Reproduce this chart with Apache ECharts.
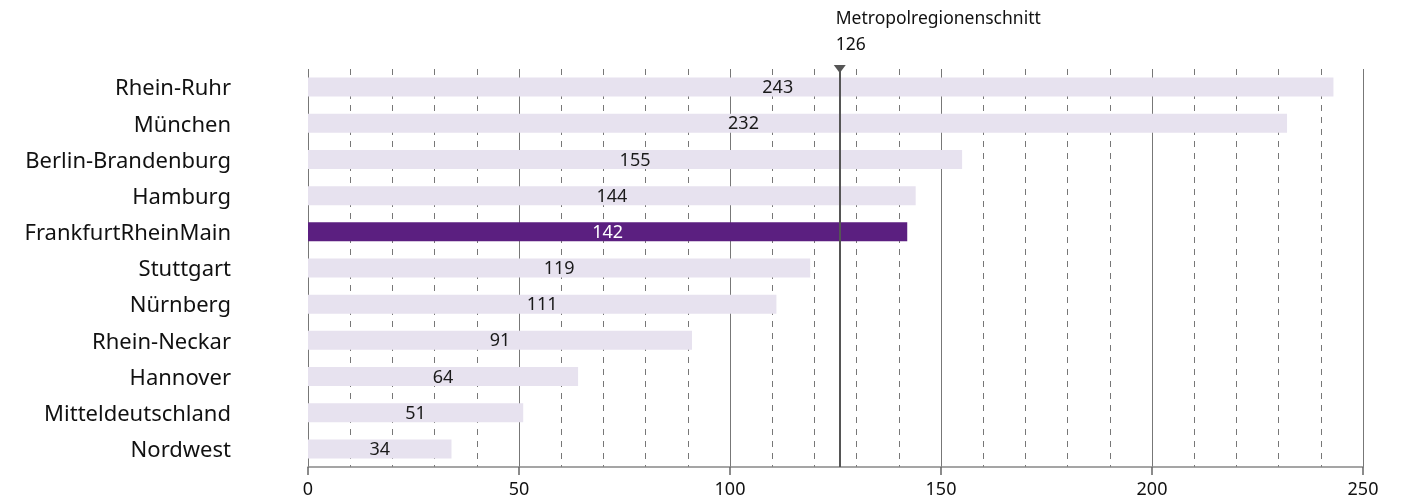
<!DOCTYPE html>
<html><head><meta charset="utf-8">
<script src="https://cdn.jsdelivr.net/npm/echarts@6/dist/echarts.min.js"></script>
<style>html,body{margin:0;padding:0;background:#fff}#c{width:1417px;height:499px}</style>
</head><body><div id="c"></div>
<script>
const categories = ['Rhein-Ruhr','München','Berlin-Brandenburg','Hamburg','FrankfurtRheinMain','Stuttgart','Nürnberg','Rhein-Neckar','Hannover','Mitteldeutschland','Nordwest'];
const values = [243,232,155,144,142,119,111,91,64,51,34];
const highlight = 'FrankfurtRheinMain';
const averageValue = 126;
const averageLabel = 'Metropolregionenschnitt';

const FONT = '"Noto Sans", sans-serif';
const labelShift = {'Rhein-Ruhr': -43, 'München': -54};
const data = values.map((v, i) => {
  const c = categories[i];
  const hi = c === highlight;
  return {
    value: v,
    itemStyle: {color: hi ? '#5b1f80' : '#e7e2ef'},
    label: {color: hi ? '#ffffff' : '#1a1a1a', offset: [labelShift[c] || 0, 1]}
  };
});

const chart = echarts.init(document.getElementById('c'));
chart.setOption({
  animation: false,
  grid: {left: 308, right: 54, top: 69, bottom: 31},
  xAxis: {
    type: 'value', min: 0, max: 250, interval: 50,
    axisLine: {show: true, lineStyle: {color: '#888', width: 1.5}},
    axisTick: {show: true, length: 8, lineStyle: {color: '#666', width: 1.5}},
    axisLabel: {color: '#111', fontSize: 18, fontFamily: FONT, margin: 14},
    splitLine: {show: true, lineStyle: {color: '#777', width: 1}},
    minorTick: {show: false, splitNumber: 5},
    minorSplitLine: {show: true, lineStyle: {color: '#777', width: 1, type: [6, 6]}}
  },
  yAxis: {
    type: 'category', data: categories, inverse: true,
    axisLine: {show: false}, axisTick: {show: false},
    axisLabel: {color: '#111', fontSize: 22, fontFamily: FONT, margin: 77, verticalAlign: 'top', lineHeight: 22, padding: [-9, 0, 0, 0]}
  },
  series: [{
    type: 'bar', data: data, barWidth: 19,
    label: {show: true, position: 'inside', fontSize: 18, fontFamily: FONT},
    markLine: {
      silent: true,
      symbol: ['triangle', 'none'],
      symbolSize: [12, 8],
      symbolRotate: [180, 0],
      lineStyle: {color: '#555', width: 2, type: 'solid'},
      label: {
        show: true, position: 'start', align: 'left', verticalAlign: 'bottom',
        formatter: averageLabel + '\n' + averageValue,
        color: '#111', fontSize: 17.5, fontFamily: FONT, lineHeight: 26,
        offset: [-4, -6]
      },
      data: [{xAxis: averageValue}]
    }
  }]
});
</script></body></html>
